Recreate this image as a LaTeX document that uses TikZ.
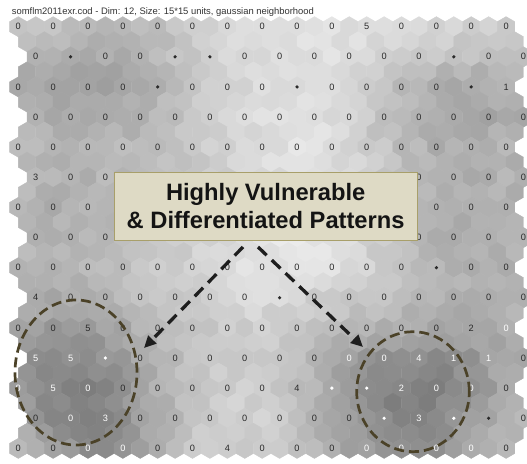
\documentclass[tikz,border=0pt]{standalone}
\usepackage{fontspec}
\setmainfont{Liberation Sans}
\usetikzlibrary{arrows.meta,shapes.geometric}

\definecolor{labk}{HTML}{2A2A2A}
\definecolor{titc}{HTML}{333333}
\definecolor{ellc}{HTML}{4B4228}
\definecolor{boxfill}{HTML}{DEDAC5}
\definecolor{boxdraw}{HTML}{A89F6A}
\definecolor{arrc}{HTML}{1E1E1E}
\colorlet{k}{labk}
\colorlet{w}{white}

\newcommand\setgrow[2]{\foreach \gvv [count=\gj from 0] in {#2}{\expandafter\xdef\csname gm#1-\gj\endcsname{\gvv}}}
\setgrow{0}{77,77,72,70,74,80,84,86,87,88,87,86,84,82,80}
\setgrow{1}{72,68,67,68,72,79,84,87,88,88,86,81,77,75,75}
\setgrow{2}{66,63,63,65,70,78,83,86,88,87,81,74,68,66,68}
\setgrow{3}{70,68,68,69,72,78,83,86,88,86,79,72,66,65,67}
\setgrow{4}{72,70,70,72,74,78,83,87,89,87,81,74,69,68,70}
\setgrow{5}{72,70,70,72,74,77,81,85,88,86,81,75,70,68,70}
\setgrow{6}{71,69,70,72,75,79,83,87,89,87,82,75,69,68,69}
\setgrow{7}{72,70,71,74,77,81,85,89,91,89,83,75,69,68,69}
\setgrow{8}{72,70,72,75,78,83,87,90,90,87,82,76,71,69,70}
\setgrow{9}{69,66,69,73,77,81,84,86,84,80,77,74,71,69,71}
\setgrow{10}{65,61,62,66,72,77,80,80,78,74,71,68,66,65,68}
\setgrow{11}{58,54,55,62,70,76,79,79,75,68,60,55,55,58,66}
\setgrow{12}{58,52,49,57,70,77,81,81,74,66,55,50,50,57,67}
\setgrow{13}{65,55,50,55,68,78,82,82,76,67,57,50,53,61,70}
\setgrow{14}{74,64,55,58,68,78,82,80,75,69,61,55,58,65,74}

\newcommand\hexcell[3]{%
  \fill[white!#3!black, draw=white!#3!black, line width=0.4pt]
    (#1,#2) ++(0,-10.05) -- ++(8.71,5.025) -- ++(0,10.05) -- ++(-8.71,5.025)
    -- ++(-8.71,-5.025) -- ++(0,-10.05) -- cycle;}

\def\dotkey{d}
\def\skipkey{x}
\newcommand\labrow[2]{%
  \foreach \labt/\labc [count=\lj from 0] in {#2}{%
    \pgfmathsetmacro\lx{18.3+34.84*\lj+17.42*mod(#1,2)}%
    \pgfmathsetmacro\ly{26.7+30.12*#1}%
    \edef\tmpt{\labt}%
    \ifx\tmpt\skipkey\else
    \ifx\tmpt\dotkey
      \node[dotn, fill=\labc] (L#1-\lj) at (\lx,\ly) {};
    \else
      \node[lab, text=\labc] (L#1-\lj) at (\lx,\ly) {\labt};
    \fi\fi}}

\tikzset{
  lab/.style={inner sep=0pt, font=\fontsize{9.2}{9}\selectfont},
  dotn/.style={circle, inner sep=0pt, minimum size=3.6pt, draw=none},
  ell/.style={ellipse, draw=ellc, line width=2.7pt, dash pattern=on 10pt off 5pt, inner sep=0pt},
  arr/.style={draw=arrc, line width=3.3pt, dash pattern=on 12pt off 7pt,
    -{Triangle[length=12pt,width=11pt]}},
  callout/.style={draw=boxdraw, fill=boxfill, line width=1pt, inner sep=0pt,
    minimum width=303.3pt, minimum height=67.3pt, align=center,
    font=\bfseries\fontsize{23.7}{28.3}\selectfont, text=black!92}
}

\begin{document}
\begin{tikzpicture}[x=1pt,y=-1pt]
\useasboundingbox (0,0) rectangle (527,463);
\fill[white] (0,0) rectangle (527,463);
\clip (0,0) rectangle (527,463);
\pgfmathsetseed{7}
\foreach \r in {0,...,28}{%
  \pgfmathtruncatemacro\rodd{mod(\r,2)}%
  \pgfmathtruncatemacro\rmod{mod(\r,4)}%
  \ifnum\rodd=1 \def\xoff{8.71}\def\hcs{0}\def\hce{28}%
  \else \def\xoff{0}%
    \ifnum\rmod=2 \def\hcs{1}\def\hce{29}\else\def\hcs{0}\def\hce{28}\fi
  \fi
  \foreach \c in {\hcs,...,\hce}{%
    \pgfmathsetmacro\hx{18.3+\xoff+17.42*\c}%
    \pgfmathsetmacro\hy{26.7+15.06*\r}%
    \pgfmathsetmacro\fa{max(0,min(14,(\hy-26.7)/30.12))}%
    \pgfmathsetmacro\fb{max(0,min(14,(\hx-18.3)/34.84))}%
    \pgfmathtruncatemacro\ia{min(floor(\fa),13)}%
    \pgfmathtruncatemacro\ja{min(floor(\fb),13)}%
    \pgfmathtruncatemacro\ib{\ia+1}%
    \pgfmathtruncatemacro\jb{\ja+1}%
    \pgfmathsetmacro\ta{\fa-\ia}%
    \pgfmathsetmacro\tb{\fb-\ja}%
    \edef\va{\csname gm\ia-\ja\endcsname}%
    \edef\vb{\csname gm\ia-\jb\endcsname}%
    \edef\vc{\csname gm\ib-\ja\endcsname}%
    \edef\vd{\csname gm\ib-\jb\endcsname}%
    \pgfmathtruncatemacro\gv{round((1-\ta)*((1-\tb)*\va+\tb*\vb)+\ta*((1-\tb)*\vc+\tb*\vd)+3*rand)}%
    \hexcell{\hx}{\hy}{\gv}%
  }%
}

\node[anchor=base west, inner sep=0pt, text=titc, font=\fontsize{9.4}{11}\selectfont] (title) at (11.7,14.5)
  {somflm2011exr.cod - Dim: 12, Size: 15*15 units, gaussian neighborhood};

\labrow{0}{0/k,0/k,0/k,0/k,0/k,0/k,0/k,0/k,0/k,0/k,5/k,0/k,0/k,0/k,0/k}
\labrow{1}{0/k,d/k,0/k,0/k,d/k,d/k,0/k,0/k,0/k,0/k,0/k,0/k,d/k,0/k,0/k}
\labrow{2}{0/k,0/k,0/k,0/k,d/k,0/k,0/k,0/k,d/k,0/k,0/k,0/k,0/k,d/k,1/k}
\labrow{3}{0/k,0/k,0/k,0/k,0/k,0/k,0/k,0/k,0/k,0/k,0/k,0/k,0/k,0/k,0/k}
\labrow{4}{0/k,0/k,0/k,0/k,0/k,0/k,0/k,0/k,0/k,0/k,0/k,0/k,0/k,0/k,0/k}
\labrow{5}{3/k,0/k,0/k,x/k,x/k,x/k,x/k,x/k,x/k,x/k,x/k,0/k,0/k,0/k,0/k}
\labrow{6}{0/k,0/k,0/k,x/k,x/k,x/k,x/k,x/k,x/k,x/k,x/k,x/k,0/k,0/k,0/k}
\labrow{7}{0/k,0/k,0/k,x/k,x/k,x/k,x/k,x/k,x/k,x/k,x/k,0/k,0/k,0/k,0/k}
\labrow{8}{0/k,0/k,0/k,0/k,0/k,0/k,0/k,0/k,0/k,0/k,0/k,0/k,d/k,0/k,0/k}
\labrow{9}{4/k,0/k,0/k,0/k,0/k,0/k,0/k,d/k,0/k,0/k,0/k,0/k,0/k,0/k,0/k}
\labrow{10}{0/k,0/k,5/k,0/k,0/k,0/k,0/k,0/k,0/k,0/k,0/k,0/k,0/k,2/k,0/w}
\labrow{11}{5/w,5/w,d/w,0/k,0/k,0/k,0/k,0/k,0/k,0/w,0/w,4/w,1/w,1/w,0/k}
\labrow{12}{0/w,5/w,0/w,0/k,0/k,0/k,0/k,0/k,4/k,d/w,d/w,2/w,0/w,0/w,0/k}
\labrow{13}{0/k,0/w,3/w,0/k,0/k,0/k,0/k,0/k,0/k,0/k,d/w,3/w,d/w,d/k,0/k}
\labrow{14}{0/k,0/k,0/w,0/w,0/k,0/k,4/k,0/k,0/k,0/k,0/w,0/w,0/w,0/w,0/k}

\node[ell, minimum width=122pt, minimum height=145pt] (lc) at (76,372.5) {};
\node[ell, minimum width=112.6pt, minimum height=120pt] (rc) at (413,391.7) {};

\node[callout] (box) at (265.65,206.35) {Highly Vulnerable\\\& Differentiated Patterns};

\coordinate (ls) at (243,247);
\coordinate (lt) at (144,348);
\coordinate (rs) at (258,247);
\coordinate (rt) at (363,347);
\draw[arr] (ls) -- (lt);
\draw[arr] (rs) -- (rt);
\end{tikzpicture}
\end{document}
